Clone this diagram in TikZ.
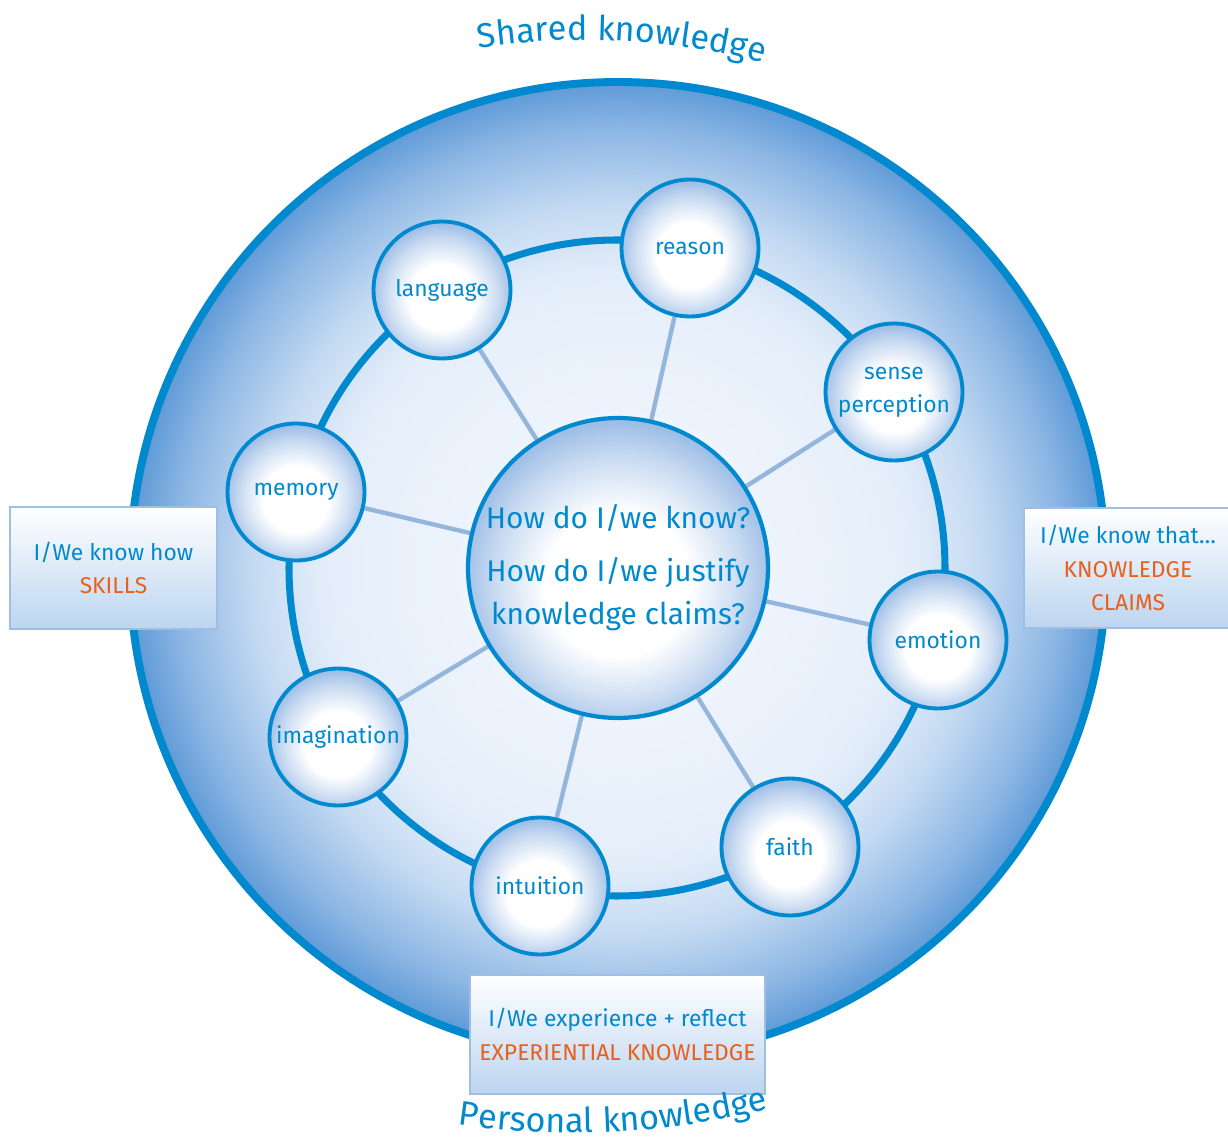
\documentclass[tikz,border=0pt]{standalone}
\usepackage{fontspec}
\setmainfont{Fira Sans}
\usetikzlibrary{backgrounds, decorations.text}

\definecolor{kblue}{RGB}{0,137,207}
\definecolor{korange}{RGB}{232,96,28}
\definecolor{spokeblue}{RGB}{148,182,220}
\definecolor{boxedge}{RGB}{160,190,225}
\definecolor{boxbot}{RGB}{188,213,240}
\definecolor{bubbleedge}{RGB}{158,190,230}
\definecolor{globein}{RGB}{248,250,254}
\definecolor{globemid}{RGB}{228,238,250}
\definecolor{globeout}{RGB}{196,218,242}
\definecolor{globerim}{RGB}{140,182,228}
\definecolor{globeedge}{RGB}{94,154,215}

% radial shadings: the rim of a round path sits at about 25bp
\pgfdeclareradialshading{bubble}{\pgfpoint{0bp}{-3.5bp}}{color(0bp)=(white); color(12bp)=(white); color(20.5bp)=(bubbleedge!55); color(26bp)=(bubbleedge); color(50bp)=(bubbleedge)}
\pgfdeclareradialshading{globe}{\pgfpoint{0bp}{0bp}}{color(0bp)=(globein); color(15bp)=(globemid); color(18.7bp)=(globeout); color(22.6bp)=(globerim); color(25bp)=(globeedge); color(50bp)=(globeedge)}

\begin{document}
\begin{tikzpicture}[
    x=0.02cm, y=-0.02cm,
    font=\fontsize{13}{19}\selectfont,
    every node/.style={align=center, text=kblue},
    bubble/.style={circle, draw=kblue, line width=2.2pt, minimum size=2.74cm, inner sep=0pt, shading=bubble},
    hub/.style={circle, draw=kblue, line width=2.4pt, minimum size=6cm, inner sep=0pt, shading=bubble,
                font=\fontsize{17}{24.5}\selectfont},
    claim/.style={rectangle, draw=boxedge, line width=1.3pt, top color=white, bottom color=boxbot, inner sep=0pt},
    spoke/.style={draw=spokeblue, line width=2.5pt},
    arctext/.style={decorate, decoration={text along path, text align=center, text color=kblue,
                    text={|\fontsize{19.5}{24}\selectfont|#1}}}
]
\useasboundingbox (0,0) rectangle (1228,1141);

% ----------------------
% Nodes
% ----------------------

% centre question
\node[hub] (hub) at (618,568) {How do I/we know?\\[0.2cm]How do I/we justify\\knowledge claims?};

% ways of knowing
\node[bubble] (reason) at (690,248) {reason};
\node[bubble] (language) at (442,290) {language};
\node[bubble] (sense) at (894,392) {sense\\perception};
\node[bubble] (memory) at (296,492) {memory};
\node[bubble] (emotion) at (938,640) {emotion};
\node[bubble] (imagination) at (338,737) {imagination};
\node[bubble] (faith) at (790,847) {faith};
\node[bubble] (intuition) at (540,886) {intuition};

% ----------------------
% Background: disc, ring and spokes
% ----------------------
\begin{pgfonlayer}{background}
  \coordinate (mid) at (618,570);
  \shade[shading=globe] (mid) circle[radius=488];
  \draw[kblue, line width=4.5pt] (mid) circle[radius=488];
  \draw[kblue, line width=4pt] (617,568) circle[radius=328];
  \foreach \w in {reason,language,sense,memory,emotion,imagination,faith,intuition}
    \draw[spoke] (hub) -- (\w);
\end{pgfonlayer}

% ----------------------
% Boxes
% ----------------------
\node[claim, minimum width=4.14cm, minimum height=2.44cm] (how) at (113.5,568)
    {I/We know how\\\textcolor{korange}{SKILLS}};
\node[claim, minimum width=4.16cm, minimum height=2.4cm] (that) at (1128,568)
    {I/We know that\ldots\\\textcolor{korange}{KNOWLEDGE}\\\textcolor{korange}{CLAIMS}};
\node[claim, minimum width=5.9cm, minimum height=2.38cm] (exp) at (617.5,1034.5)
    {I/We experience + reflect\\\textcolor{korange}{EXPERIENTIAL KNOWLEDGE}};

% ----------------------
% Curved titles
% ----------------------
\path[arctext={Shared knowledge}] (585,740) ++(258:700) arc[start angle=258, end angle=288, radius=700];
\path[arctext={Personal knowledge}] (575,333) ++(100:800) arc[start angle=100, end angle=74.4, radius=800];

\end{tikzpicture}
\end{document}
